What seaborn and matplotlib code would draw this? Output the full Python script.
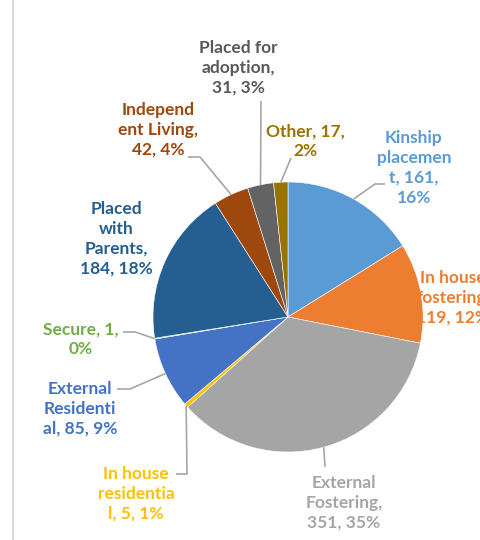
import numpy as np
import matplotlib
matplotlib.use("Agg")
import matplotlib.pyplot as plt
import seaborn as sns
from matplotlib.lines import Line2D

# --- data ---
categories = ["Kinship placement", "In house fostering", "External Fostering",
              "In house residential", "External Residential", "Secure",
              "Placed with Parents", "Independent Living", "Placed for adoption", "Other"]
counts = [161, 119, 351, 5, 85, 1, 184, 42, 31, 17]
percents = [16, 12, 35, 1, 9, 0, 18, 4, 3, 2]
# label text as wrapped in the original chart
label_text = ["Kinship\nplacemen\nt, 161,\n16%",
              "In house\nfostering,\n119, 12%",
              "External\nFostering,\n351, 35%",
              "In house\nresidentia\nl, 5, 1%",
              "External\nResidenti\nal, 85, 9%",
              "Secure, 1,\n0%",
              "Placed\nwith\nParents,\n184, 18%",
              "Independ\nent Living,\n42, 4%",
              "Placed for\nadoption,\n31, 3%",
              "Other, 17,\n2%"]
colors = ["#5B9BD5", "#ED7D31", "#A5A5A5", "#FFC000", "#4472C4",
          "#70AD47", "#255E91", "#9E480E", "#636363", "#997300"]
text_colors = ["#5B9BD5", "#ED7D31", "#A5A5A5", "#FFC000", "#4472C4",
               "#70AD47", "#255E91", "#9E480E", "#595959", "#997300"]

W, H = 481, 540
# pie centre / radius in pixel space (y measured from bottom)
cx, cy, R = 288, H - 317, 135

# label centres (pixels from top-left)
label_pos = [(414, 168), (453, 298), (344, 503), (136, 494), (80, 409),
             (81, 339), (116, 239), (158, 130), (238, 68), (305, 141)]
# leader: (elbow x, elbow y, end x) in pixels from top, None = no leader
leaders = [(375, 184, 385), None, (325, 467, None), (187, 474, 176),
           (130, 389, 117), (135, 332, 123), None, (200, 157, 188),
           (261, 101, None), (291, 158, None)]

sns.set_theme(style="white")
plt.rcParams['font.family'] = ['Lato', 'DejaVu Sans']

fig = plt.figure(figsize=(W / 100, H / 100), dpi=100)
ax = fig.add_axes([0, 0, 1, 1])

wedges, _ = ax.pie(counts, colors=colors, startangle=90, counterclock=False,
                   center=(cx, cy), radius=R, frame=False,
                   wedgeprops=dict(edgecolor="white", linewidth=0.4))

total = sum(counts)
cum = np.cumsum([0] + counts[:-1])
for i, txt in enumerate(label_text):
    lx, ly = label_pos[i]
    ax.text(lx, H - ly, txt, ha="center", va="center", fontsize=12.5,
            fontweight="bold", color=text_colors[i], linespacing=1.3,
            multialignment="center")
    if leaders[i] is not None:
        mid = (cum[i] + counts[i] / 2) / total * 2 * np.pi
        px, py = cx + R * np.sin(mid), cy + R * np.cos(mid)
        ex, ey, endx = leaders[i]
        xs, ys = [px, ex], [py, H - ey]
        if endx is not None:
            xs.append(endx)
            ys.append(H - ey)
        ax.plot(xs, ys, color="#A6A6A6", lw=1.2, solid_capstyle="butt")

ax.set_xlim(0, W)
ax.set_ylim(0, H)
ax.set_aspect("equal")
ax.axis("off")

# chart border on the left of the screenshot
fig.add_artist(Line2D([13 / W, 13 / W], [0, 1], color="#D9D9D9", lw=1.5,
                      transform=fig.transFigure))

fig.savefig("out.png", dpi=100)
